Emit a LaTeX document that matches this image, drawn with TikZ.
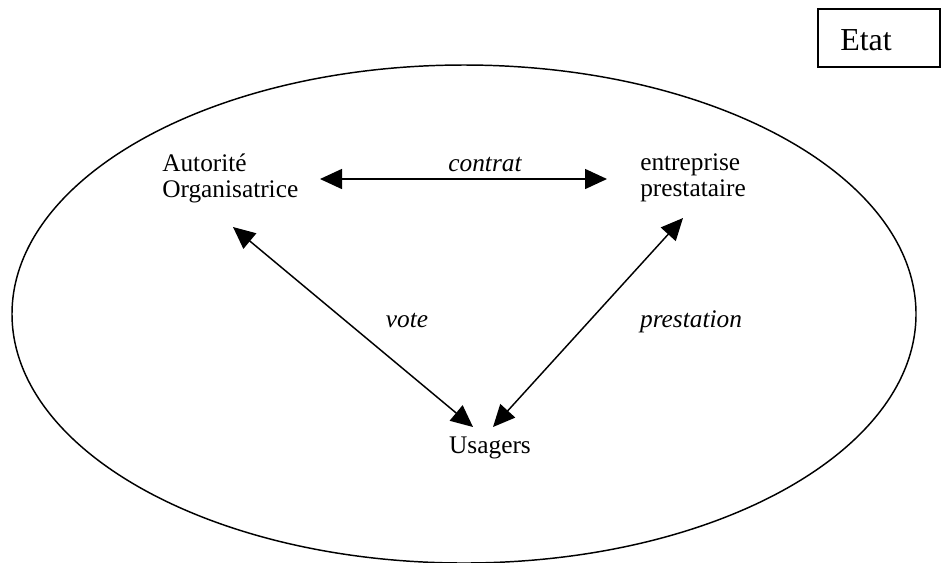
\documentclass[tikz,border=0pt]{standalone}
\usepackage{fontspec}
\setmainfont{Liberation Serif}
\usetikzlibrary{arrows.meta}
\begin{document}
\begin{tikzpicture}[x=0.75pt,y=-0.75pt,
  lbl/.style={inner sep=0pt,font=\fontsize{19}{19.5}\selectfont,align=left},
  ital/.style={inner sep=0pt,font=\fontsize{19}{19.5}\selectfont\itshape},
  link/.style={line width=1.1pt,{Triangle[length=16.5pt,width=15pt]}-{Triangle[length=16.5pt,width=15pt]}},
  frame/.style={line width=1.1pt}]
\useasboundingbox (0,0) rectangle (941,562);
% Etat box
\draw[line width=0.9pt] (818,9) rectangle (940,67);
\node[inner sep=0pt,font=\fontsize{24}{26}\selectfont,anchor=base west] (etat) at (840,50) {Etat};
% ellipse
\draw[frame] (464,314) ellipse [x radius=452, y radius=249];
% nodes
\node[lbl,anchor=base west] (ao) at (162,197) {Autorité\\Organisatrice};
\node[lbl,anchor=base west] (ep) at (640,196) {entreprise\\prestataire};
\node[lbl,anchor=base] (us) at (490,453) {Usagers};
% arrow ends
\coordinate (aoR) at (320,179);
\coordinate (epL) at (607,179);
\coordinate (aoB) at (233,227);
\coordinate (usL) at (473,427);
\coordinate (epB) at (683,218);
\coordinate (usR) at (493,427);
\draw[link] (aoR) -- (epL);
\draw[link] (aoB) -- (usL);
\draw[link] (epB) -- (usR);
% labels
\node[ital,anchor=base] (contrat) at (485,171) {contrat};
\node[ital,anchor=base] (vote) at (407,327) {vote};
\node[ital,anchor=base] (prest) at (691,327) {prestation};
\end{tikzpicture}
\end{document}
